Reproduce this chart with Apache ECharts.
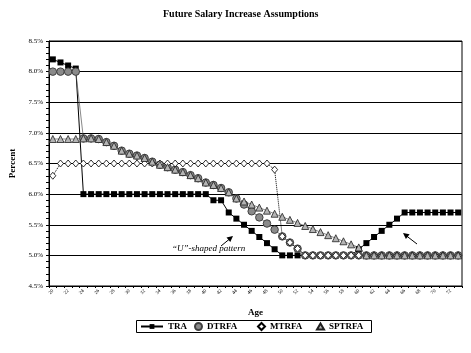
<!DOCTYPE html>
<html>
<head>
<meta charset="utf-8">
<script src="https://cdn.jsdelivr.net/npm/echarts@6/dist/echarts.min.js"></script>
<style>
    html, body { margin: 0; padding: 0; background: #fff; }
    #chart { width: 471px; height: 353px; }
</style>
</head>
<body>
<div id="chart"></div>
<script>
// ages on the x axis
var ages = [20, 21, 22, 23, 24, 25, 26, 27, 28, 29, 30, 31, 32, 33, 34, 35, 36, 37, 38, 39,
    40, 41, 42, 43, 44, 45, 46, 47, 48, 49, 50, 51, 52, 53, 54, 55, 56, 57, 58, 59,
    60, 61, 62, 63, 64, 65, 66, 67, 68, 69, 70, 71, 72, 73];

// salary increase assumptions (%)
var traData = [8.2, 8.15, 8.1, 8.05,
    6.0, 6.0, 6.0, 6.0, 6.0, 6.0, 6.0, 6.0, 6.0, 6.0, 6.0, 6.0, 6.0, 6.0, 6.0, 6.0, 6.0,
    5.9, 5.9, 5.7, 5.6, 5.5, 5.4, 5.3, 5.2, 5.1,
    5.0, 5.0, 5.0, 5.0, 5.0, 5.0, 5.0, 5.0, 5.0, 5.0,
    5.1, 5.2, 5.3, 5.4, 5.5, 5.6,
    5.7, 5.7, 5.7, 5.7, 5.7, 5.7, 5.7, 5.7];

var dtrfaData = [8.0, 8.0, 8.0, 8.0,
    6.91, 6.91, 6.90, 6.85, 6.79, 6.71, 6.66, 6.63, 6.59, 6.53, 6.48, 6.44, 6.40, 6.36, 6.31, 6.26,
    6.19, 6.15, 6.10, 6.03,
    5.93, 5.83, 5.72, 5.62, 5.52, 5.42, 5.31, 5.21, 5.11,
    5.0, 5.0, 5.0, 5.0, 5.0, 5.0, 5.0, 5.0, 5.0, 5.0, 5.0, 5.0, 5.0, 5.0, 5.0, 5.0, 5.0, 5.0,
    5.0, 5.0, 5.0];

var mtrfaData = [6.3,
    6.5, 6.5, 6.5, 6.5, 6.5, 6.5, 6.5, 6.5, 6.5, 6.5, 6.5, 6.5, 6.5, 6.5, 6.5, 6.5, 6.5, 6.5,
    6.5, 6.5, 6.5, 6.5, 6.5, 6.5, 6.5, 6.5, 6.5, 6.5,
    6.4, 5.31, 5.21, 5.11,
    5.0, 5.0, 5.0, 5.0, 5.0, 5.0, 5.0, 5.0, 5.0, 5.0, 5.0, 5.0, 5.0, 5.0, 5.0, 5.0, 5.0, 5.0,
    5.0, 5.0, 5.0];

var sptrfaData = [6.9, 6.9, 6.9, 6.9,
    6.91, 6.91, 6.90, 6.85, 6.79, 6.71, 6.66, 6.63, 6.59, 6.53, 6.48, 6.44, 6.40, 6.36, 6.31, 6.26,
    6.19, 6.15, 6.10, 6.03,
    5.93, 5.88, 5.83, 5.78, 5.73, 5.68, 5.63, 5.58, 5.53, 5.48, 5.43, 5.38, 5.33, 5.28, 5.23, 5.18,
    5.13,
    5.0, 5.0, 5.0, 5.0, 5.0, 5.0, 5.0, 5.0, 5.0, 5.0, 5.0, 5.0, 5.0];

var serifFont = '"Liberation Serif", "DejaVu Serif", serif';

var chart = echarts.init(document.getElementById('chart'), null, { renderer: 'canvas' });

var legendText = {
    fontFamily: serifFont,
    fontWeight: 'bold',
    fontSize: 9,
    color: '#000'
};

var option = {
    backgroundColor: '#fff',
    animation: false,
    title: {
        text: 'Future Salary Increase Assumptions',
        left: 158,
        top: 4,
        textStyle: {
            fontFamily: serifFont,
            fontWeight: 'bold',
            fontSize: 10,
            color: '#000'
        }
    },
    grid: {
        left: 49,
        right: 9,
        top: 41,
        bottom: 67,
        show: true,
        borderColor: '#000',
        borderWidth: 1,
        containLabel: false
    },
    // one legend per entry so each icon gets its own width
    legend: [{
        left: 140,
        top: 322,
        padding: 0,
        itemWidth: 22,
        itemHeight: 6,
        data: ['TRA'],
        textStyle: legendText
    }, {
        left: 194,
        top: 322,
        padding: 0,
        itemWidth: 7,
        itemHeight: 7,
        data: [{ name: 'DTRFA', icon: 'circle' }],
        textStyle: legendText
    }, {
        left: 257,
        top: 322,
        padding: 0,
        itemWidth: 7,
        itemHeight: 7,
        data: [{ name: 'MTRFA', icon: 'diamond' }],
        textStyle: legendText
    }, {
        left: 316,
        top: 322,
        padding: 0,
        itemWidth: 7,
        itemHeight: 6,
        data: [{ name: 'SPTRFA', icon: 'triangle' }],
        textStyle: legendText
    }],
    xAxis: {
        type: 'category',
        data: ages,
        boundaryGap: true,
        name: 'Age',
        nameLocation: 'middle',
        nameGap: 22,
        nameTextStyle: {
            fontFamily: serifFont,
            fontWeight: 'bold',
            fontSize: 9,
            color: '#000'
        },
        axisLine: { lineStyle: { color: '#000', width: 1 } },
        axisTick: { show: true, interval: 0, length: 2, lineStyle: { color: '#000' } },
        axisLabel: {
            interval: 1,
            rotate: 45,
            fontSize: 5,
            margin: 4,
            fontFamily: serifFont,
            color: '#000'
        },
        splitLine: { show: false }
    },
    yAxis: {
        type: 'value',
        min: 4.5,
        max: 8.5,
        interval: 0.5,
        name: 'Percent',
        nameLocation: 'middle',
        nameRotate: 90,
        nameGap: 29,
        nameTextStyle: {
            fontFamily: serifFont,
            fontWeight: 'bold',
            fontSize: 9,
            color: '#000'
        },
        axisLine: { show: true, lineStyle: { color: '#000', width: 1 } },
        axisTick: { show: true, length: 3, lineStyle: { color: '#000' } },
        minorTick: { show: true, splitNumber: 5, length: 3, lineStyle: { color: '#000' } },
        axisLabel: {
            margin: 6,
            fontSize: 7,
            fontFamily: serifFont,
            color: '#000',
            formatter: function (v) {
                return v.toFixed(1) + '%';
            }
        },
        splitLine: { show: true, lineStyle: { color: '#000', width: 1 } }
    },
    series: [{
        name: 'TRA',
        type: 'line',
        data: traData,
        showAllSymbol: true,
        symbol: 'rect',
        symbolSize: 6,
        itemStyle: { color: '#000' },
        lineStyle: { color: '#000', width: 1 }
    }, {
        name: 'DTRFA',
        type: 'line',
        data: dtrfaData,
        showAllSymbol: true,
        symbol: 'circle',
        symbolSize: 7.5,
        itemStyle: { color: '#8a8a8a', borderColor: '#404040', borderWidth: 1 },
        lineStyle: { color: '#555', width: 0.7 }
    }, {
        name: 'MTRFA',
        type: 'line',
        data: mtrfaData,
        showAllSymbol: true,
        symbol: 'diamond',
        symbolSize: [6, 7],
        itemStyle: { color: '#fff', borderColor: '#000', borderWidth: 0.8 },
        lineStyle: { color: '#000', width: 1, type: 'dotted' }
    }, {
        name: 'SPTRFA',
        type: 'line',
        data: sptrfaData,
        showAllSymbol: true,
        symbol: 'triangle',
        symbolSize: [7, 7],
        itemStyle: { color: '#b4b4b4', borderColor: '#202020', borderWidth: 0.8 },
        lineStyle: { color: '#555', width: 0.7 }
    }],
    graphic: [{
        // border round the legend
        type: 'rect',
        shape: { x: 136.5, y: 320.5, width: 235, height: 12 },
        style: { fill: 'none', stroke: '#000', lineWidth: 1 },
        z: 100
    }, {
        type: 'text',
        left: 172,
        top: 244,
        style: {
            text: '\u201CU\u201D-shaped pattern',
            font: 'italic 9px ' + serifFont,
            fill: '#000'
        }
    }, {
        type: 'line',
        shape: { x1: 221, y1: 246, x2: 232, y2: 237 },
        style: { stroke: '#000', lineWidth: 1 }
    }, {
        type: 'polygon',
        shape: { points: [[233, 236], [230.3, 242.1], [226.5, 237.5]] },
        style: { fill: '#000' }
    }, {
        type: 'line',
        shape: { x1: 417, y1: 244, x2: 404, y2: 234 },
        style: { stroke: '#000', lineWidth: 1 }
    }, {
        type: 'polygon',
        shape: { points: [[403, 233], [409.6, 234.3], [405.9, 239.1]] },
        style: { fill: '#000' }
    }]
};

chart.setOption(option);
</script>
</body>
</html>
